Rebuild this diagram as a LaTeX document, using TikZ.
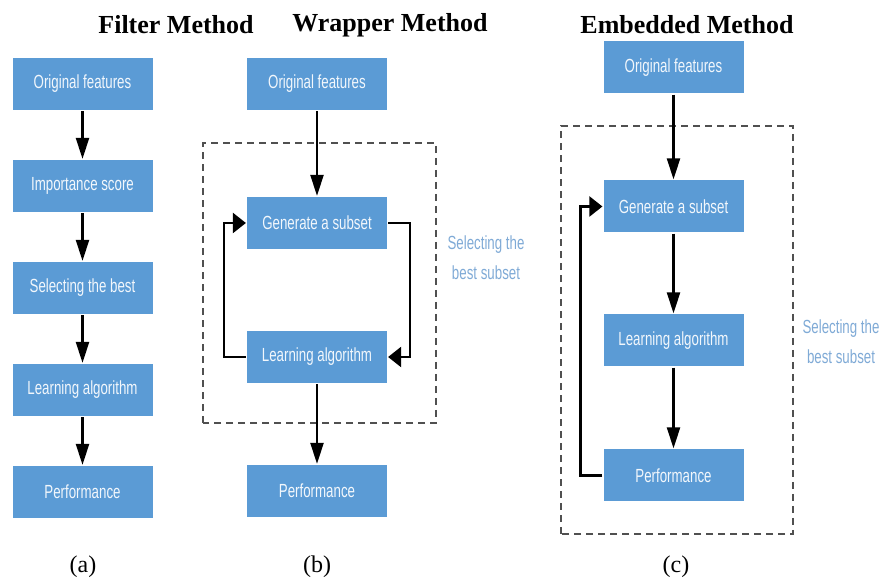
\documentclass[tikz,border=0pt]{standalone}
\usepackage{fontspec}
\setmainfont{Liberation Serif}
\newfontfamily\boxfont[FakeStretch=0.7]{Liberation Sans}
\usetikzlibrary{arrows.meta,positioning}
\definecolor{boxblue}{HTML}{5B9BD5}
\definecolor{noteblue}{HTML}{7FAAD6}
\definecolor{framegray}{HTML}{505050}

\begin{document}
\begin{tikzpicture}[x=1pt,y=1pt,->,>={Triangle[length=21pt,width=13pt]},line width=2.2pt]
\tikzstyle{box}=[rectangle,fill=boxblue,draw=none,text=white!92!boxblue,minimum width=140pt,minimum height=52pt,inner sep=0pt,font=\boxfont\fontsize{19}{22}\selectfont]
\tikzstyle{side}=[>={Triangle[length=13pt,width=20pt]}]
\tikzstyle{frame}=[-,draw=framegray,line width=1.6pt,dash pattern=on 7pt off 5pt]
\tikzstyle{note}=[text=noteblue,align=center,font=\boxfont\fontsize{19}{30}\selectfont]
\tikzstyle{title}=[font=\bfseries\fontsize{26}{30}\selectfont]
\tikzstyle{sub}=[font=\fontsize{24}{28}\selectfont]

\useasboundingbox (0,0) rectangle (882,585);

% titles
\node[title] (tf) at (176,560) {Filter Method};
\node[title] (tw) at (390,560) {Wrapper Method};
\node[title] (te) at (687,560) {Embedded Method};

% (a) filter
\node[box]          (A)         at (82.5,501) {Original features};
\node[box]          (B) [below of=A,node distance=102pt] {Importance score};
\node[box]          (C) [below of=B,node distance=102pt] {Selecting the best};
\node[box]          (D) [below of=C,node distance=102pt] {Learning algorithm};
\node[box]          (E) [below of=D,node distance=102pt] {Performance};
\node[sub]          (a) at (83,18) {(a)};

% (b) wrapper
\draw[frame] (203,162) rectangle (436,442);
\node[box]          (F)         at (317,501) {Original features};
\node[box]          (G) [below of=F,node distance=139pt] {Generate a subset};
\node[box]          (H) [below of=G,node distance=134pt] {Learning algorithm};
\node[box]          (I) [below of=H,node distance=134pt] {Performance};
\node[note]         (J) at (486,327) {Selecting the\\best subset};
\node[sub]          (b) at (317,18) {(b)};

% (c) embedded
\draw[frame] (561,51) rectangle (793,459);
\node[box]          (K)         at (673.5,517.5) {Original features};
\node[box]          (L) [below of=K,node distance=139pt] {Generate a subset};
\node[box]          (M) [below of=L,node distance=134pt] {Learning algorithm};
\node[box]          (N) [below of=M,node distance=135pt] {Performance};
\node[note]         (O) at (841,243) {Selecting the\\best subset};
\node[sub]          (c) at (676,18) {(c)};

\path
(A) edge (B)
(B) edge (C)
(C) edge (D)
(D) edge (E)
(F) edge (G)
(H) edge (I)
(K) edge (L)
(L) edge (M)
(M) edge (N)
;

\draw[side] (H.west) -- ++(-22,0) |- (G.west);
\draw[side] (G.east) -- ++(22,0) |- (H.east);
\draw[side] (N.west) -- ++(-22,0) |- (L.west);

\end{tikzpicture}
\end{document}
